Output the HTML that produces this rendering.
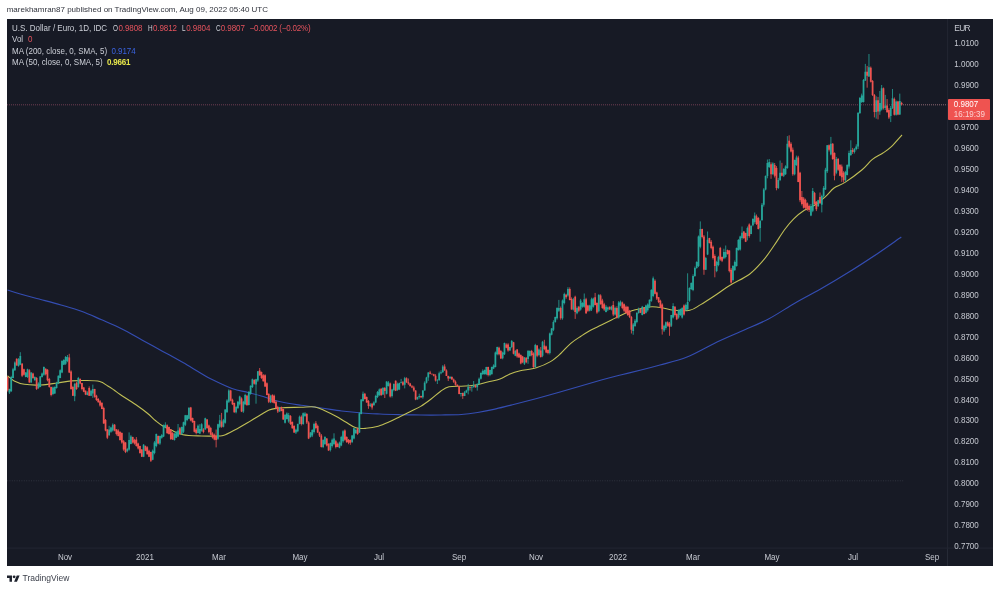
<!DOCTYPE html>
<html><head><meta charset="utf-8"><title>USDEUR chart</title>
<style>
html,body{margin:0;padding:0;background:#fff;}
body{width:1000px;height:590px;position:relative;overflow:hidden;font-family:"Liberation Sans",sans-serif;}
.t{position:absolute;white-space:nowrap;line-height:1;filter:blur(0.25px);}
#hdr{left:6.7px;top:5.8px;font-size:8px;color:#30333c;}
#chart{position:absolute;left:7px;top:18.5px;width:986px;height:547.3px;background:#171a25;overflow:hidden;}
#chart svg{position:absolute;left:-7px;top:-18.5px;}
.lg{font-size:8px;color:#cdd0d8;transform:scaleY(1.1);}
.ax{font-size:8px;color:#c6c9d1;transform:scaleY(1.1);}
.r{color:#e4535d}
.tl{font-size:8px;color:#c6c9d1;transform:translateX(-50%) scaleY(1.1);}
#ft{left:22.5px;top:574.3px;font-size:8.5px;color:#3a3e49;}
</style></head><body>
<div id="hdr" class="t">marekhamran87 published on TradingView.com, Aug 09, 2022 05:40 UTC</div>
<div id="chart">
<svg width="1000" height="590" viewBox="0 0 1000 590">
<line x1="7" y1="104.8" x2="903" y2="104.8" stroke="#6e3c50" stroke-width="1" stroke-dasharray="1 1"/>
<line x1="903" y1="104.8" x2="947.5" y2="104.8" stroke="#8f6873" stroke-width="1" stroke-dasharray="1 1"/>
<line x1="7" y1="480.8" x2="903.5" y2="480.8" stroke="#3b3f4b" stroke-width="0.7" stroke-dasharray="1 1.4"/>

<path d="M7.5 290.0C9.6 290.7 14.8 292.4 20.3 294.0C25.8 295.6 33.9 297.7 40.7 299.5C47.5 301.3 54.2 303.0 61.0 305.0C67.8 307.0 74.6 308.8 81.4 311.3C88.2 313.8 94.9 316.9 101.7 319.8C108.5 322.8 115.2 325.6 122.0 329.0C128.8 332.4 135.6 336.5 142.4 340.2C149.2 343.9 156.0 347.7 162.8 351.4C169.6 355.1 176.8 359.1 183.0 362.6C189.2 366.2 195.2 369.9 200.0 372.7C204.8 375.5 206.3 376.7 211.6 379.3C216.9 381.9 225.9 386.3 232.0 388.5C238.1 390.7 243.3 391.3 248.0 392.5C252.7 393.7 254.9 394.1 260.3 395.7C265.7 397.2 273.8 400.2 280.6 401.8C287.4 403.4 294.2 404.3 301.0 405.3C307.8 406.3 314.5 407.1 321.3 408.0C328.1 408.9 334.8 410.2 341.6 411.0C348.4 411.8 355.6 412.5 362.0 413.0C368.4 413.5 373.6 413.7 380.0 414.0C386.4 414.3 393.5 414.5 400.3 414.7C407.1 414.9 413.9 414.9 420.7 415.0C427.5 415.1 434.2 415.1 441.0 415.0C447.8 414.9 455.2 414.9 461.3 414.5C467.4 414.1 472.2 413.4 477.6 412.5C483.0 411.6 488.4 410.6 493.8 409.4C499.2 408.2 504.0 406.9 510.0 405.4C516.0 403.9 521.7 402.5 530.0 400.3C538.3 398.1 548.1 395.4 560.0 392.0C571.9 388.6 591.0 382.9 601.3 380.0C611.6 377.1 614.8 376.5 621.6 374.8C628.4 373.1 635.6 371.4 642.0 369.8C648.4 368.2 652.5 367.1 660.0 365.0C667.5 362.9 678.0 360.6 687.0 357.0C696.0 353.4 705.2 347.7 714.2 343.4C723.2 339.1 732.2 335.3 741.3 331.2C750.3 327.1 759.5 323.8 768.5 319.0C777.5 314.2 786.6 307.9 795.6 302.7C804.6 297.5 813.7 293.0 822.7 287.8C831.7 282.6 840.8 277.1 849.8 271.5C858.8 265.9 868.4 259.6 877.0 253.9C885.6 248.2 897.2 239.8 901.3 237.0" fill="none" stroke="#344db2" stroke-width="1.15"/>
<path d="M7.5 375.8C8.6 376.6 11.4 379.5 14.2 380.9C17.0 382.3 20.0 383.6 24.4 384.3C28.8 385.0 35.3 385.2 40.7 385.0C46.1 384.8 51.9 383.7 57.0 383.0C62.1 382.3 66.5 381.3 71.2 380.9C76.0 380.5 80.8 380.4 85.5 380.5C90.2 380.6 96.0 380.6 99.7 381.5C103.4 382.4 105.4 384.6 107.8 386.0C110.2 387.4 111.9 388.6 114.0 390.0C116.1 391.4 116.6 392.1 120.2 394.5C123.8 396.9 131.1 401.4 135.6 404.5C140.1 407.6 144.1 410.5 147.4 413.2C150.8 415.9 153.1 418.7 155.7 420.8C158.3 422.9 160.2 424.5 162.8 426.0C165.4 427.5 167.8 428.5 171.2 430.0C174.6 431.5 177.9 433.8 183.0 434.8C188.1 435.8 195.7 435.8 201.5 436.0C207.3 436.2 213.9 436.1 217.7 436.0C221.4 435.9 221.2 436.3 224.0 435.3C226.8 434.3 230.7 432.1 234.7 430.0C238.7 427.9 243.5 425.1 247.9 422.5C252.3 419.9 257.6 416.6 261.1 414.5C264.6 412.4 266.5 411.1 269.1 410.0C271.8 408.9 274.4 408.6 277.0 408.2C279.6 407.8 281.0 407.8 285.0 407.6C289.0 407.5 296.0 407.4 301.0 407.3C306.0 407.2 310.9 406.4 315.0 407.0C319.1 407.6 322.0 409.5 325.4 411.0C328.8 412.5 332.1 414.2 335.5 416.0C338.9 417.8 342.3 420.0 345.7 422.0C349.1 424.0 352.5 426.8 355.9 427.8C359.3 428.9 362.3 428.6 366.0 428.3C369.7 428.0 374.2 427.3 378.2 426.2C382.2 425.1 386.3 423.2 390.0 421.6C393.7 420.0 396.9 418.2 400.3 416.5C403.7 414.8 407.1 413.2 410.5 411.5C413.9 409.8 417.3 408.4 420.7 406.4C424.1 404.4 427.4 401.9 430.8 399.3C434.2 396.7 438.0 393.1 441.0 391.0C444.0 388.9 445.6 387.6 449.0 386.8C452.4 386.0 457.2 386.4 461.3 386.2C465.4 385.9 469.1 386.0 473.5 385.3C477.9 384.6 483.3 383.1 487.7 382.0C492.1 380.9 496.3 380.4 500.0 379.0C503.7 377.6 506.6 375.3 510.0 373.9C513.4 372.5 515.8 371.8 520.2 370.8C524.6 369.8 531.2 369.2 536.3 367.7C541.3 366.2 546.4 364.0 550.5 361.6C554.6 359.2 557.3 356.6 560.7 353.5C564.1 350.4 567.4 346.2 570.8 343.3C574.2 340.4 577.6 338.4 581.0 336.2C584.4 334.0 587.6 331.9 591.0 330.0C594.4 328.1 597.9 326.7 601.3 325.0C604.7 323.3 608.1 321.7 611.5 320.0C614.9 318.3 618.2 316.4 621.6 314.9C625.0 313.4 628.4 311.9 631.8 310.8C635.2 309.7 638.6 309.1 642.0 308.4C645.4 307.7 648.6 306.8 652.0 306.7C655.4 306.6 658.7 307.2 662.3 307.8C665.9 308.4 669.0 309.9 673.6 310.3C678.2 310.7 685.3 311.2 689.8 310.3C694.3 309.4 696.6 307.0 700.7 304.6C704.8 302.2 709.2 299.3 714.2 296.0C719.2 292.7 724.6 288.6 730.5 285.0C736.4 281.4 744.1 278.2 749.5 274.2C754.9 270.1 758.9 265.4 763.0 260.7C767.1 256.0 770.3 251.0 773.9 245.8C777.5 240.6 781.4 234.0 784.7 229.5C788.0 225.0 790.4 222.0 793.7 218.8C797.0 215.6 800.8 212.6 804.3 210.3C807.8 208.0 811.5 207.3 815.0 205.0C818.5 202.7 822.3 199.4 825.5 196.6C828.7 193.8 830.8 190.4 834.0 188.0C837.2 185.6 840.4 185.4 845.0 182.4C849.6 179.4 857.2 173.8 861.8 170.0C866.4 166.2 868.9 162.2 872.4 159.4C875.9 156.6 879.8 155.1 883.0 153.0C886.2 150.9 888.2 149.7 891.4 146.7C894.6 143.7 900.2 136.9 902.0 135.0" fill="none" stroke="#c0bf56" stroke-width="1.1"/>
<g style="filter:blur(0.3px)">
<path d="M9.41 388.7V394.0M11.23 375.8V391.9M13.04 367.8V378.2M14.85 361.4V370.9M18.48 358.1V366.7M20.29 352.2V365.2M25.73 372.1V377.3M27.55 368.7V378.0M31.17 372.2V382.7M34.80 376.4V380.6M38.43 382.3V388.9M40.24 376.0V387.2M42.05 372.5V377.6M43.87 366.5V375.8M52.93 386.6V395.2M54.75 386.4V393.9M56.56 381.8V388.6M58.37 375.4V384.1M60.19 369.4V378.2M62.00 360.2V373.2M63.82 359.1V365.1M65.63 356.0V364.9M67.44 355.0V362.2M74.70 382.9V401.2M78.32 376.9V387.7M87.39 391.2V395.3M91.02 389.7V396.1M92.83 384.6V397.9M109.15 425.8V435.8M110.96 426.7V432.8M112.78 423.4V431.6M127.28 447.9V452.4M129.10 432.4V450.6M130.91 435.1V444.3M143.60 444.0V457.1M152.67 449.5V460.2M154.48 441.1V454.3M156.30 433.6V447.3M159.92 435.7V444.9M161.74 434.1V438.7M163.55 424.5V437.1M165.36 422.3V428.2M174.43 432.9V440.6M176.25 431.1V438.1M178.06 424.0V437.0M181.69 426.6V434.9M183.50 421.7V433.1M185.31 414.9V426.1M187.13 414.9V421.2M188.94 407.0V419.2M198.01 424.5V433.3M199.82 424.2V434.1M201.63 423.2V431.7M205.26 417.7V429.7M217.95 423.7V439.9M219.77 414.9V428.0M223.39 418.9V427.4M225.21 409.3V423.7M227.02 399.2V412.7M228.83 389.3V403.0M236.09 405.9V413.4M237.90 400.9V408.6M239.71 395.7V405.5M243.34 400.8V412.9M245.15 393.8V405.1M248.78 391.4V405.4M250.59 385.4V394.7M252.41 378.6V388.0M256.03 378.8V403.7M257.85 371.0V381.9M270.54 394.8V403.1M279.61 407.0V411.8M285.05 414.0V423.5M286.86 412.4V419.6M288.68 412.9V422.8M295.93 428.7V434.0M297.74 423.6V432.2M299.56 415.6V424.4M303.18 412.5V424.8M305.00 412.1V416.9M310.44 432.1V437.6M312.25 429.2V437.1M314.06 422.7V433.5M323.13 439.2V448.1M324.94 436.2V444.9M330.38 442.6V451.5M332.20 438.5V447.5M334.01 433.3V445.2M339.45 441.6V448.3M341.26 435.8V446.2M343.08 430.2V442.7M352.14 434.9V443.1M353.96 427.9V439.4M355.77 428.5V433.9M359.40 412.3V433.0M361.21 399.1V414.3M363.02 391.6V401.6M370.28 403.1V407.1M373.90 401.3V405.7M375.72 394.8V403.2M377.53 391.0V398.1M379.34 388.5V395.8M382.97 387.1V395.1M386.60 381.3V394.4M388.41 381.1V386.5M392.04 388.8V397.5M393.85 383.4V391.3M397.48 382.6V390.8M399.29 382.6V390.1M401.11 378.9V383.4M404.73 376.9V388.4M417.43 396.7V399.4M419.24 393.7V398.6M422.87 390.2V398.7M424.68 381.3V390.6M426.49 376.8V383.5M428.31 372.1V380.8M437.37 379.1V384.0M439.19 371.6V380.9M441.00 370.3V374.3M442.81 365.1V372.8M450.07 376.1V378.6M460.95 392.9V396.5M464.57 391.1V396.1M466.39 389.7V392.8M468.20 383.9V394.4M471.83 385.7V391.7M473.64 381.0V387.4M477.27 383.3V390.6M479.08 377.5V384.7M480.89 372.8V379.6M482.71 369.4V374.7M484.52 369.6V374.4M486.33 366.8V375.2M489.96 369.7V376.2M491.77 366.6V374.4M493.59 364.3V369.1M495.40 351.5V367.4M497.21 346.7V355.3M502.65 351.6V359.3M504.47 342.6V355.0M509.91 346.8V350.8M511.72 340.0V348.2M515.35 349.9V356.2M524.42 357.0V365.0M528.04 350.0V363.8M529.86 350.3V356.7M535.30 343.8V367.6M538.92 348.4V356.2M542.55 340.9V357.2M549.80 332.6V354.4M551.62 328.0V335.4M553.43 320.3V331.1M555.24 316.6V322.7M557.06 307.3V319.6M558.87 299.9V311.9M562.50 299.5V319.7M564.31 292.7V304.4M567.94 287.2V296.7M573.38 297.8V310.5M577.00 306.4V314.3M580.63 298.9V310.6M582.44 302.2V307.7M584.26 293.5V307.7M589.70 304.8V311.4M591.51 297.7V311.0M593.32 297.6V307.7M598.76 294.4V312.4M606.02 305.1V312.4M607.83 306.6V311.1M611.46 305.7V310.4M615.08 306.7V315.6M618.71 301.1V318.6M620.52 300.5V306.4M633.22 323.0V334.8M635.03 319.1V326.9M636.85 312.1V323.3M638.66 307.6V313.7M642.29 305.9V315.4M645.91 304.7V313.6M647.73 303.4V311.7M649.54 299.5V308.2M651.35 289.1V301.8M653.17 276.5V297.2M664.05 324.6V332.0M665.86 321.5V329.7M671.30 314.9V327.0M673.11 303.2V318.5M678.55 309.4V318.7M680.37 308.6V315.9M682.18 307.2V318.6M685.81 303.6V310.9M687.62 273.3V310.5M689.43 287.3V301.8M691.25 282.4V290.0M693.06 274.3V291.2M694.87 266.5V276.8M696.69 261.3V268.7M698.50 235.5V267.1M700.31 221.4V248.3M705.75 256.9V270.0M707.57 231.5V255.1M716.63 260.8V272.2M718.45 255.8V266.3M723.89 248.7V259.2M725.70 245.5V258.4M732.95 265.2V281.5M734.77 260.5V271.1M736.58 247.5V266.6M738.40 239.1V250.7M740.21 235.7V250.6M742.02 226.5V239.6M747.46 226.5V240.4M751.09 225.1V234.2M752.90 218.2V226.3M754.72 212.5V223.7M760.16 219.8V241.7M761.97 203.0V221.0M763.78 188.1V206.6M765.60 175.4V190.4M767.41 159.5V178.3M769.22 159.0V168.0M772.85 162.3V174.7M778.29 177.9V189.0M780.10 160.5V181.1M783.73 168.1V177.1M785.54 165.3V174.9M787.36 136.1V168.8M794.61 159.6V175.3M796.42 155.6V165.9M810.93 204.0V216.2M812.74 188.0V212.2M818.18 199.7V206.8M821.81 194.7V212.4M823.62 186.1V197.5M825.44 167.8V189.9M827.25 145.0V173.0M830.88 136.9V155.4M836.32 156.9V174.2M845.38 170.8V181.8M847.20 164.3V175.4M849.01 150.7V168.6M850.83 140.3V155.9M854.45 148.1V153.5M856.27 144.3V150.3M858.08 112.0V149.0M859.89 97.0V114.0M861.71 93.6V103.0M863.52 79.0V102.5M865.33 63.9V81.0M868.96 54.0V77.0M876.21 96.3V118.7M879.84 91.0V114.8M881.65 85.0V110.5M885.28 94.9V110.0M890.72 106.0V122.1M892.53 89.0V109.0M896.16 100.5V115.6M899.79 93.6V115.0" stroke="#26a69a" stroke-width="0.8" fill="none"/>
<path d="M7.60 376.4V391.5M16.67 358.4V365.6M22.11 363.0V377.1M23.92 368.7V375.6M29.36 369.2V382.8M32.99 372.7V378.8M36.61 377.1V390.0M45.68 368.4V375.4M47.49 369.2V381.4M49.31 377.9V387.7M51.12 386.7V396.4M69.26 353.8V373.1M71.07 370.3V389.7M72.88 385.8V396.0M76.51 381.7V389.8M80.14 378.3V384.3M81.95 382.8V390.4M83.76 386.9V392.2M85.58 390.4V395.1M89.20 386.4V396.0M94.64 388.8V397.7M96.46 394.8V400.9M98.27 398.0V402.6M100.08 400.0V406.7M101.90 402.5V409.2M103.71 406.7V423.8M105.52 419.0V431.3M107.34 429.1V439.1M114.59 424.0V431.3M116.40 429.0V435.5M118.22 429.2V436.4M120.03 431.6V440.6M121.84 432.4V443.7M123.66 440.0V450.8M125.47 442.1V453.1M132.72 436.7V443.5M134.54 438.8V444.6M136.35 437.1V446.6M138.16 442.7V449.5M139.98 445.7V453.7M141.79 449.1V457.0M145.42 445.5V451.2M147.23 446.2V454.5M149.04 449.7V457.1M150.86 451.7V462.0M158.11 435.5V444.3M167.18 424.4V434.0M168.99 426.6V434.6M170.80 429.1V440.0M172.62 432.1V439.9M179.87 427.0V434.7M190.75 406.9V421.3M192.57 417.6V422.8M194.38 420.7V432.4M196.19 428.0V434.4M203.45 428.2V433.3M207.07 419.0V428.8M208.89 424.6V433.3M210.70 426.8V435.1M212.51 432.2V438.6M214.33 433.6V440.3M216.14 429.5V447.4M221.58 412.9V427.8M230.65 389.9V401.3M232.46 398.7V405.1M234.27 402.6V412.8M241.53 397.3V412.1M246.97 394.9V405.9M254.22 379.2V384.6M259.66 368.0V375.8M261.47 371.6V378.9M263.29 374.1V381.6M265.10 374.3V387.1M266.91 382.4V395.3M268.73 393.5V403.1M272.35 394.2V402.8M274.17 394.6V403.7M275.98 400.4V409.4M277.79 405.8V413.0M281.42 406.6V411.3M283.23 408.7V419.8M290.49 415.1V424.9M292.30 421.4V428.7M294.12 425.2V433.0M301.37 415.4V425.5M306.81 413.1V424.0M308.62 421.2V439.1M315.88 421.1V429.3M317.69 424.6V432.9M319.50 431.7V437.0M321.32 434.0V447.5M326.76 438.1V446.4M328.57 443.2V450.8M335.82 439.9V448.4M337.64 442.6V447.2M344.89 429.4V440.9M346.70 436.3V442.9M348.52 439.0V444.2M350.33 439.4V444.8M357.58 427.9V434.9M364.84 392.9V399.6M366.65 396.5V402.7M368.46 400.0V408.8M372.09 402.8V409.6M381.16 388.2V395.7M384.78 387.0V398.0M390.22 382.6V397.5M395.66 380.4V391.1M402.92 381.0V385.9M406.55 377.3V383.0M408.36 378.5V384.9M410.17 382.9V386.3M411.99 385.0V388.2M413.80 385.8V391.8M415.61 390.2V400.2M421.05 395.7V398.0M430.12 370.8V374.3M431.93 373.8V374.6M433.75 373.8V376.4M435.56 374.2V381.5M444.63 364.3V370.7M446.44 369.3V376.0M448.25 375.7V381.0M451.88 376.3V379.7M453.69 378.5V382.9M455.51 380.4V385.7M457.32 384.4V386.3M459.13 385.9V394.3M462.76 392.6V398.9M470.01 386.7V390.5M475.45 384.8V387.7M488.15 366.7V376.4M499.03 346.7V355.4M500.84 349.9V358.9M506.28 343.3V348.3M508.09 343.2V351.7M513.54 341.9V354.4M517.16 349.0V357.8M518.98 352.6V357.7M520.79 354.4V364.3M522.60 355.9V363.2M526.23 357.2V363.2M531.67 349.9V356.3M533.48 352.3V367.9M537.11 345.1V357.2M540.74 347.0V357.6M544.36 339.8V350.2M546.18 345.7V353.2M547.99 349.3V354.3M560.68 306.5V319.8M566.12 293.8V298.8M569.75 287.4V300.4M571.56 297.4V309.6M575.19 295.7V318.9M578.82 305.9V312.2M586.07 297.8V313.9M587.88 304.8V311.8M595.14 292.9V305.4M596.95 302.3V313.8M600.58 294.3V304.6M602.39 298.8V308.8M604.20 302.8V310.9M609.64 306.6V309.7M613.27 301.1V316.2M616.90 306.3V318.6M622.34 301.6V309.3M624.15 303.5V312.4M625.97 305.5V314.0M627.78 306.4V315.9M629.59 309.9V318.1M631.41 315.9V333.5M640.47 308.6V313.1M644.10 307.1V314.3M654.98 279.3V294.4M656.79 291.7V300.0M658.61 297.0V303.1M660.42 299.7V308.2M662.23 303.3V334.6M667.67 321.3V326.7M669.49 321.9V335.8M674.93 306.1V316.5M676.74 313.2V320.1M683.99 304.4V315.5M702.13 228.7V238.4M703.94 235.0V274.8M709.38 237.8V243.5M711.19 240.0V249.3M713.01 245.5V259.5M714.82 254.3V277.3M720.26 246.9V260.8M722.07 256.5V262.1M727.51 249.6V254.5M729.33 250.3V272.4M731.14 268.0V283.6M743.84 231.2V239.1M745.65 232.7V242.1M749.28 223.4V237.7M756.53 214.5V225.0M758.34 217.1V229.4M771.04 162.3V178.8M774.66 163.0V177.5M776.48 166.1V190.3M781.92 162.8V176.4M789.17 135.3V148.4M790.98 142.2V152.4M792.80 147.5V175.8M798.24 155.8V182.2M800.05 171.8V202.2M801.86 191.0V205.5M803.68 197.0V208.5M805.49 198.7V209.2M807.30 202.4V210.9M809.12 204.6V212.0M814.56 191.9V204.5M816.37 201.1V211.1M820.00 192.5V203.8M829.06 144.4V151.5M832.69 143.1V159.8M834.50 152.4V180.3M838.13 158.0V170.9M839.94 164.0V176.2M841.76 164.5V181.9M843.57 171.2V182.5M852.64 147.9V153.9M867.15 65.9V87.7M870.77 66.5V82.5M872.59 80.0V96.0M874.40 94.0V117.4M878.03 96.9V119.4M883.47 87.5V109.5M887.09 99.0V113.0M888.91 108.2V119.0M894.35 97.5V115.5M897.97 100.8V115.2M901.60 101.8V105.5" stroke="#ef5350" stroke-width="0.8" fill="none"/>
<path d="M8.54 389.0h1.75V392.4h-1.75zM10.35 376.9h1.75V391.3h-1.75zM12.17 369.2h1.75V378.0h-1.75zM13.98 362.6h1.75V370.3h-1.75zM17.61 359.3h1.75V365.9h-1.75zM19.42 356.0h1.75V364.8h-1.75zM24.86 372.5h1.75V376.9h-1.75zM26.67 369.2h1.75V376.9h-1.75zM30.30 372.5h1.75V382.4h-1.75zM33.93 376.9h1.75V380.2h-1.75zM37.55 383.5h1.75V388.0h-1.75zM39.37 376.4h1.75V386.9h-1.75zM41.18 373.6h1.75V376.9h-1.75zM42.99 367.0h1.75V374.7h-1.75zM52.06 387.4h1.75V394.0h-1.75zM53.87 386.9h1.75V393.5h-1.75zM55.69 383.0h1.75V388.0h-1.75zM57.50 375.8h1.75V383.5h-1.75zM59.31 370.3h1.75V378.0h-1.75zM61.13 361.0h1.75V372.5h-1.75zM62.94 359.9h1.75V364.8h-1.75zM64.75 357.1h1.75V363.7h-1.75zM66.57 357.1h1.75V361.0h-1.75zM73.82 384.1h1.75V396.2h-1.75zM77.45 378.0h1.75V386.9h-1.75zM86.51 392.4h1.75V395.1h-1.75zM90.14 390.7h1.75V395.7h-1.75zM91.95 389.0h1.75V393.5h-1.75zM108.27 429.4h1.75V435.3h-1.75zM110.09 427.6h1.75V431.8h-1.75zM111.90 424.7h1.75V430.6h-1.75zM126.41 449.0h1.75V451.3h-1.75zM128.22 440.0h1.75V449.6h-1.75zM130.04 436.5h1.75V444.0h-1.75zM142.73 444.8h1.75V456.7h-1.75zM151.80 450.8h1.75V459.7h-1.75zM153.61 442.4h1.75V453.1h-1.75zM155.42 434.1h1.75V446.0h-1.75zM159.05 436.0h1.75V443.6h-1.75zM160.86 435.3h1.75V437.7h-1.75zM162.68 425.2h1.75V436.5h-1.75zM164.49 424.7h1.75V427.0h-1.75zM173.56 434.1h1.75V440.1h-1.75zM175.37 431.8h1.75V437.7h-1.75zM177.18 430.6h1.75V436.5h-1.75zM180.81 427.0h1.75V434.1h-1.75zM182.62 422.3h1.75V431.8h-1.75zM184.44 415.2h1.75V424.7h-1.75zM186.25 415.2h1.75V419.9h-1.75zM188.06 408.0h1.75V418.7h-1.75zM197.13 425.8h1.75V433.0h-1.75zM198.94 429.0h1.75V433.4h-1.75zM200.76 424.2h1.75V430.8h-1.75zM204.38 418.2h1.75V429.5h-1.75zM217.08 424.2h1.75V438.7h-1.75zM218.89 420.2h1.75V426.8h-1.75zM222.52 420.2h1.75V426.8h-1.75zM224.33 409.6h1.75V422.8h-1.75zM226.14 400.4h1.75V412.3h-1.75zM227.96 390.4h1.75V401.7h-1.75zM235.21 407.0h1.75V412.3h-1.75zM237.03 401.7h1.75V408.3h-1.75zM238.84 396.4h1.75V404.3h-1.75zM242.47 401.7h1.75V411.6h-1.75zM244.28 395.1h1.75V404.3h-1.75zM247.91 391.8h1.75V405.0h-1.75zM249.72 385.8h1.75V393.7h-1.75zM251.53 379.2h1.75V387.1h-1.75zM255.16 379.2h1.75V384.5h-1.75zM256.97 371.3h1.75V380.5h-1.75zM269.67 396.0h1.75V402.3h-1.75zM278.73 407.5h1.75V411.6h-1.75zM284.17 414.9h1.75V422.8h-1.75zM285.99 413.6h1.75V418.9h-1.75zM287.80 414.9h1.75V421.5h-1.75zM295.05 429.7h1.75V432.6h-1.75zM296.87 424.0h1.75V431.2h-1.75zM298.68 416.8h1.75V424.0h-1.75zM302.31 413.2h1.75V424.0h-1.75zM304.12 413.5h1.75V416.0h-1.75zM309.56 432.6h1.75V436.9h-1.75zM311.37 430.0h1.75V435.5h-1.75zM313.19 424.0h1.75V432.0h-1.75zM322.25 440.0h1.75V447.0h-1.75zM324.07 436.9h1.75V444.0h-1.75zM329.51 443.0h1.75V449.9h-1.75zM331.32 439.8h1.75V446.0h-1.75zM333.13 438.4h1.75V444.1h-1.75zM338.57 442.7h1.75V447.7h-1.75zM340.39 436.9h1.75V445.6h-1.75zM342.20 431.2h1.75V441.2h-1.75zM351.27 435.5h1.75V442.0h-1.75zM353.08 428.3h1.75V438.4h-1.75zM354.90 430.0h1.75V433.0h-1.75zM358.52 413.2h1.75V432.6h-1.75zM360.34 399.5h1.75V413.9h-1.75zM362.15 393.7h1.75V401.0h-1.75zM369.40 404.5h1.75V406.0h-1.75zM373.03 402.4h1.75V405.2h-1.75zM374.84 396.0h1.75V402.4h-1.75zM376.66 392.0h1.75V397.0h-1.75zM378.47 389.4h1.75V395.2h-1.75zM382.10 388.0h1.75V394.4h-1.75zM385.72 381.5h1.75V393.7h-1.75zM387.54 382.5h1.75V386.0h-1.75zM391.16 389.4h1.75V395.9h-1.75zM392.98 384.0h1.75V390.0h-1.75zM396.60 384.0h1.75V390.0h-1.75zM398.42 382.9h1.75V389.4h-1.75zM400.23 382.3h1.75V383.0h-1.75zM403.86 378.2h1.75V384.7h-1.75zM416.55 396.9h1.75V399.4h-1.75zM418.36 396.1h1.75V396.9h-1.75zM421.99 390.5h1.75V397.2h-1.75zM423.80 382.7h1.75V390.5h-1.75zM425.62 377.6h1.75V382.7h-1.75zM427.43 372.6h1.75V377.6h-1.75zM436.50 379.9h1.75V380.5h-1.75zM438.31 373.3h1.75V380.0h-1.75zM440.12 372.3h1.75V373.3h-1.75zM441.94 366.6h1.75V372.3h-1.75zM449.19 377.0h1.75V378.4h-1.75zM460.07 393.1h1.75V393.9h-1.75zM463.70 392.6h1.75V396.1h-1.75zM465.51 390.5h1.75V392.6h-1.75zM467.33 387.1h1.75V390.5h-1.75zM470.95 387.2h1.75V387.8h-1.75zM472.77 385.5h1.75V387.2h-1.75zM476.39 384.1h1.75V387.3h-1.75zM478.21 378.8h1.75V384.1h-1.75zM480.02 372.8h1.75V378.8h-1.75zM481.83 371.0h1.75V374.2h-1.75zM483.65 370.0h1.75V374.2h-1.75zM485.46 367.0h1.75V374.2h-1.75zM489.09 370.0h1.75V375.0h-1.75zM490.90 367.0h1.75V374.2h-1.75zM492.71 365.4h1.75V368.6h-1.75zM494.53 352.6h1.75V367.0h-1.75zM496.34 347.0h1.75V354.2h-1.75zM501.78 352.6h1.75V358.2h-1.75zM503.59 343.0h1.75V354.2h-1.75zM509.03 347.0h1.75V350.6h-1.75zM510.85 341.0h1.75V347.0h-1.75zM514.47 351.0h1.75V355.8h-1.75zM523.54 357.4h1.75V363.8h-1.75zM527.17 351.0h1.75V359.0h-1.75zM528.98 351.0h1.75V356.0h-1.75zM534.42 345.0h1.75V367.0h-1.75zM538.05 349.4h1.75V355.0h-1.75zM541.67 341.8h1.75V355.8h-1.75zM548.93 333.5h1.75V353.0h-1.75zM550.74 328.4h1.75V334.8h-1.75zM552.55 322.0h1.75V329.7h-1.75zM554.37 317.0h1.75V322.0h-1.75zM556.18 308.1h1.75V318.3h-1.75zM557.99 308.1h1.75V310.7h-1.75zM561.62 300.5h1.75V318.3h-1.75zM563.43 294.1h1.75V303.0h-1.75zM567.06 289.1h1.75V295.4h-1.75zM572.50 299.2h1.75V309.4h-1.75zM576.13 308.1h1.75V313.2h-1.75zM579.76 300.5h1.75V309.4h-1.75zM581.57 303.0h1.75V306.8h-1.75zM583.38 299.2h1.75V306.8h-1.75zM588.82 305.6h1.75V310.7h-1.75zM590.64 299.2h1.75V309.4h-1.75zM592.45 298.6h1.75V306.8h-1.75zM597.89 294.8h1.75V311.3h-1.75zM605.14 306.8h1.75V311.9h-1.75zM606.96 307.5h1.75V309.4h-1.75zM610.58 306.8h1.75V309.4h-1.75zM614.21 308.1h1.75V314.5h-1.75zM617.84 302.4h1.75V317.6h-1.75zM619.65 301.8h1.75V305.6h-1.75zM632.34 324.6h1.75V331.0h-1.75zM634.16 320.8h1.75V325.9h-1.75zM635.97 313.0h1.75V322.1h-1.75zM637.78 309.4h1.75V313.0h-1.75zM641.41 306.8h1.75V315.1h-1.75zM645.04 305.6h1.75V312.7h-1.75zM646.85 304.4h1.75V310.3h-1.75zM648.66 299.7h1.75V306.8h-1.75zM650.48 290.0h1.75V300.8h-1.75zM652.29 278.3h1.75V296.1h-1.75zM663.17 325.8h1.75V330.5h-1.75zM664.98 322.2h1.75V328.1h-1.75zM670.42 315.1h1.75V325.8h-1.75zM672.24 306.0h1.75V317.4h-1.75zM677.68 310.3h1.75V317.4h-1.75zM679.49 309.1h1.75V315.1h-1.75zM681.31 308.0h1.75V317.4h-1.75zM684.93 305.0h1.75V310.3h-1.75zM686.75 302.0h1.75V309.0h-1.75zM688.56 288.1h1.75V300.8h-1.75zM690.37 283.0h1.75V289.0h-1.75zM692.19 276.1h1.75V290.0h-1.75zM694.00 268.0h1.75V276.1h-1.75zM695.81 262.0h1.75V268.0h-1.75zM697.63 236.6h1.75V265.9h-1.75zM699.44 229.0h1.75V246.8h-1.75zM704.88 258.0h1.75V269.7h-1.75zM706.69 239.8h1.75V254.4h-1.75zM715.76 262.0h1.75V271.0h-1.75zM717.57 257.0h1.75V265.0h-1.75zM723.01 251.9h1.75V258.3h-1.75zM724.83 251.9h1.75V257.0h-1.75zM732.08 266.0h1.75V280.0h-1.75zM733.89 262.0h1.75V270.0h-1.75zM735.71 248.1h1.75V265.9h-1.75zM737.52 240.0h1.75V250.0h-1.75zM739.33 236.6h1.75V249.4h-1.75zM741.15 232.8h1.75V237.9h-1.75zM746.59 228.0h1.75V236.0h-1.75zM750.21 226.0h1.75V234.0h-1.75zM752.03 219.0h1.75V225.2h-1.75zM753.84 215.5h1.75V222.0h-1.75zM759.28 221.0h1.75V228.0h-1.75zM761.09 204.7h1.75V220.0h-1.75zM762.91 189.5h1.75V204.7h-1.75zM764.72 176.0h1.75V189.5h-1.75zM766.53 163.0h1.75V176.0h-1.75zM768.35 162.0h1.75V167.0h-1.75zM771.97 163.6h1.75V174.2h-1.75zM777.41 180.0h1.75V188.0h-1.75zM779.23 172.7h1.75V180.0h-1.75zM782.85 169.0h1.75V175.8h-1.75zM784.67 166.6h1.75V174.2h-1.75zM786.48 143.7h1.75V168.1h-1.75zM793.74 160.0h1.75V174.2h-1.75zM795.55 157.5h1.75V165.0h-1.75zM810.06 206.3h1.75V215.4h-1.75zM811.87 191.0h1.75V210.8h-1.75zM817.31 200.2h1.75V206.3h-1.75zM820.94 196.0h1.75V204.7h-1.75zM822.75 188.0h1.75V196.0h-1.75zM824.56 169.7h1.75V189.5h-1.75zM826.38 145.3h1.75V171.2h-1.75zM830.00 143.7h1.75V154.4h-1.75zM835.44 159.0h1.75V172.7h-1.75zM844.51 172.0h1.75V180.3h-1.75zM846.32 165.1h1.75V175.0h-1.75zM848.14 152.9h1.75V166.6h-1.75zM849.95 150.0h1.75V155.0h-1.75zM853.58 149.0h1.75V152.0h-1.75zM855.39 146.5h1.75V149.0h-1.75zM857.20 113.0h1.75V146.5h-1.75zM859.02 98.0h1.75V113.0h-1.75zM860.83 95.6h1.75V102.0h-1.75zM862.64 80.0h1.75V102.0h-1.75zM864.46 71.8h1.75V80.4h-1.75zM868.08 67.2h1.75V76.4h-1.75zM875.34 100.2h1.75V112.1h-1.75zM878.96 102.9h1.75V111.5h-1.75zM880.78 88.3h1.75V109.5h-1.75zM884.40 105.5h1.75V108.0h-1.75zM889.84 108.0h1.75V116.1h-1.75zM891.66 98.3h1.75V108.0h-1.75zM895.28 101.5h1.75V114.8h-1.75zM898.91 100.9h1.75V114.5h-1.75z" fill="#26a69a"/>
<path d="M6.72 376.9h1.75V390.2h-1.75zM15.79 358.8h1.75V365.4h-1.75zM21.23 363.7h1.75V375.8h-1.75zM23.05 369.2h1.75V374.7h-1.75zM28.49 370.3h1.75V382.4h-1.75zM32.11 373.6h1.75V378.0h-1.75zM35.74 378.0h1.75V389.0h-1.75zM44.81 368.7h1.75V374.2h-1.75zM46.62 369.8h1.75V380.2h-1.75zM48.43 379.1h1.75V386.9h-1.75zM50.25 386.9h1.75V395.1h-1.75zM68.38 357.5h1.75V372.5h-1.75zM70.19 371.4h1.75V389.0h-1.75zM72.01 386.9h1.75V395.7h-1.75zM75.63 383.0h1.75V389.0h-1.75zM79.26 379.1h1.75V383.5h-1.75zM81.07 383.0h1.75V389.0h-1.75zM82.89 387.4h1.75V391.8h-1.75zM84.70 390.7h1.75V394.6h-1.75zM88.33 388.0h1.75V395.7h-1.75zM93.77 389.0h1.75V396.8h-1.75zM95.58 395.7h1.75V400.1h-1.75zM97.39 399.0h1.75V402.3h-1.75zM99.21 401.2h1.75V405.6h-1.75zM101.02 402.8h1.75V408.9h-1.75zM102.83 408.0h1.75V423.5h-1.75zM104.65 419.9h1.75V430.6h-1.75zM106.46 429.4h1.75V437.7h-1.75zM113.71 424.7h1.75V430.6h-1.75zM115.53 429.4h1.75V434.1h-1.75zM117.34 430.6h1.75V435.9h-1.75zM119.16 431.8h1.75V440.1h-1.75zM120.97 433.0h1.75V442.4h-1.75zM122.78 441.3h1.75V449.6h-1.75zM124.60 442.4h1.75V451.9h-1.75zM131.85 437.1h1.75V442.4h-1.75zM133.66 440.1h1.75V443.6h-1.75zM135.48 439.5h1.75V446.0h-1.75zM137.29 443.6h1.75V448.4h-1.75zM139.10 446.0h1.75V453.1h-1.75zM140.92 449.6h1.75V456.7h-1.75zM144.54 446.0h1.75V450.8h-1.75zM146.36 447.2h1.75V454.3h-1.75zM148.17 450.8h1.75V456.7h-1.75zM149.98 451.9h1.75V460.8h-1.75zM157.24 435.9h1.75V443.6h-1.75zM166.30 425.2h1.75V433.0h-1.75zM168.12 427.0h1.75V434.1h-1.75zM169.93 429.4h1.75V438.9h-1.75zM171.74 433.0h1.75V439.5h-1.75zM179.00 428.2h1.75V434.1h-1.75zM189.88 407.5h1.75V420.5h-1.75zM191.69 418.1h1.75V422.3h-1.75zM193.50 421.1h1.75V431.8h-1.75zM195.32 429.4h1.75V433.0h-1.75zM202.57 429.5h1.75V432.1h-1.75zM206.20 419.5h1.75V428.1h-1.75zM208.01 425.5h1.75V432.1h-1.75zM209.82 428.1h1.75V434.8h-1.75zM211.64 433.4h1.75V437.4h-1.75zM213.45 434.8h1.75V439.4h-1.75zM215.26 436.1h1.75V440.0h-1.75zM220.70 421.5h1.75V426.8h-1.75zM229.77 390.4h1.75V400.4h-1.75zM231.59 399.7h1.75V404.3h-1.75zM233.40 403.0h1.75V412.3h-1.75zM240.65 398.4h1.75V411.6h-1.75zM246.09 395.7h1.75V405.0h-1.75zM253.35 379.9h1.75V383.8h-1.75zM258.79 370.6h1.75V375.2h-1.75zM260.60 371.9h1.75V377.9h-1.75zM262.41 375.2h1.75V381.2h-1.75zM264.23 375.2h1.75V386.5h-1.75zM266.04 383.2h1.75V395.1h-1.75zM267.85 393.7h1.75V401.7h-1.75zM271.48 395.1h1.75V402.3h-1.75zM273.29 395.7h1.75V403.0h-1.75zM275.11 401.7h1.75V408.3h-1.75zM276.92 407.0h1.75V411.6h-1.75zM280.55 407.0h1.75V410.9h-1.75zM282.36 409.0h1.75V419.5h-1.75zM289.61 416.0h1.75V424.0h-1.75zM291.43 422.0h1.75V428.3h-1.75zM293.24 426.0h1.75V432.6h-1.75zM300.49 416.8h1.75V424.0h-1.75zM305.93 413.9h1.75V422.5h-1.75zM307.75 422.5h1.75V438.4h-1.75zM315.00 423.2h1.75V428.0h-1.75zM316.81 426.0h1.75V432.6h-1.75zM318.63 432.6h1.75V435.5h-1.75zM320.44 435.5h1.75V447.0h-1.75zM325.88 438.4h1.75V445.6h-1.75zM327.69 444.1h1.75V450.6h-1.75zM334.95 441.2h1.75V447.0h-1.75zM336.76 444.0h1.75V447.0h-1.75zM344.02 430.4h1.75V439.8h-1.75zM345.83 436.9h1.75V442.0h-1.75zM347.64 439.8h1.75V442.7h-1.75zM349.46 440.0h1.75V442.7h-1.75zM356.71 428.5h1.75V434.0h-1.75zM363.96 393.7h1.75V399.0h-1.75zM365.78 397.0h1.75V402.4h-1.75zM367.59 401.0h1.75V406.0h-1.75zM371.22 403.8h1.75V407.4h-1.75zM380.28 388.7h1.75V395.2h-1.75zM383.91 388.0h1.75V391.0h-1.75zM389.35 383.6h1.75V396.6h-1.75zM394.79 380.8h1.75V390.8h-1.75zM402.04 382.3h1.75V384.7h-1.75zM405.67 378.2h1.75V382.3h-1.75zM407.48 382.3h1.75V383.4h-1.75zM409.30 383.4h1.75V386.3h-1.75zM411.11 386.3h1.75V387.5h-1.75zM412.92 387.5h1.75V390.6h-1.75zM414.74 390.6h1.75V399.4h-1.75zM420.18 396.1h1.75V397.2h-1.75zM429.24 372.6h1.75V373.8h-1.75zM431.06 373.7h1.75V374.3h-1.75zM432.87 374.2h1.75V375.7h-1.75zM434.68 375.7h1.75V380.4h-1.75zM443.75 366.6h1.75V370.4h-1.75zM445.56 370.4h1.75V376.0h-1.75zM447.38 376.0h1.75V378.4h-1.75zM451.00 377.0h1.75V379.6h-1.75zM452.82 379.6h1.75V381.7h-1.75zM454.63 381.7h1.75V384.8h-1.75zM456.45 384.8h1.75V386.3h-1.75zM458.26 386.3h1.75V393.9h-1.75zM461.89 393.1h1.75V396.1h-1.75zM469.14 387.1h1.75V387.8h-1.75zM474.58 385.5h1.75V387.3h-1.75zM487.27 367.0h1.75V375.0h-1.75zM498.15 347.8h1.75V354.2h-1.75zM499.97 351.0h1.75V358.6h-1.75zM505.41 344.6h1.75V347.8h-1.75zM507.22 344.6h1.75V350.6h-1.75zM512.66 342.2h1.75V353.8h-1.75zM516.29 349.4h1.75V356.6h-1.75zM518.10 353.4h1.75V357.4h-1.75zM519.91 355.0h1.75V363.4h-1.75zM521.73 356.6h1.75V362.2h-1.75zM525.35 357.8h1.75V362.2h-1.75zM530.79 351.0h1.75V355.0h-1.75zM532.61 353.4h1.75V367.0h-1.75zM536.23 345.4h1.75V355.8h-1.75zM539.86 350.6h1.75V357.0h-1.75zM543.49 345.4h1.75V349.0h-1.75zM545.30 346.6h1.75V352.6h-1.75zM547.11 350.0h1.75V353.0h-1.75zM559.81 308.1h1.75V318.3h-1.75zM565.25 294.8h1.75V297.3h-1.75zM568.88 289.1h1.75V300.0h-1.75zM570.69 299.0h1.75V309.4h-1.75zM574.32 296.7h1.75V311.9h-1.75zM577.94 306.8h1.75V310.7h-1.75zM585.20 299.2h1.75V313.2h-1.75zM587.01 305.6h1.75V310.7h-1.75zM594.26 297.3h1.75V304.9h-1.75zM596.08 303.0h1.75V312.6h-1.75zM599.70 295.4h1.75V304.3h-1.75zM601.52 300.5h1.75V308.1h-1.75zM603.33 304.3h1.75V309.4h-1.75zM608.77 306.8h1.75V309.4h-1.75zM612.40 304.9h1.75V314.5h-1.75zM616.02 308.1h1.75V317.6h-1.75zM621.46 302.4h1.75V308.1h-1.75zM623.28 304.3h1.75V310.7h-1.75zM625.09 306.8h1.75V313.0h-1.75zM626.90 306.8h1.75V315.1h-1.75zM628.72 310.7h1.75V317.0h-1.75zM630.53 317.0h1.75V329.7h-1.75zM639.60 309.1h1.75V312.7h-1.75zM643.22 308.0h1.75V313.9h-1.75zM654.10 280.7h1.75V293.7h-1.75zM655.92 292.5h1.75V298.5h-1.75zM657.73 297.3h1.75V302.0h-1.75zM659.54 300.8h1.75V308.0h-1.75zM661.36 304.4h1.75V329.3h-1.75zM666.80 322.2h1.75V325.8h-1.75zM668.61 323.4h1.75V326.9h-1.75zM674.05 306.8h1.75V315.1h-1.75zM675.86 313.9h1.75V319.2h-1.75zM683.12 305.6h1.75V314.5h-1.75zM701.25 229.0h1.75V237.0h-1.75zM703.07 236.6h1.75V269.7h-1.75zM708.51 238.0h1.75V243.0h-1.75zM710.32 241.7h1.75V248.1h-1.75zM712.13 246.8h1.75V258.0h-1.75zM713.95 256.0h1.75V265.9h-1.75zM719.39 248.1h1.75V259.5h-1.75zM721.20 257.0h1.75V260.8h-1.75zM726.64 250.0h1.75V254.0h-1.75zM728.45 250.6h1.75V271.0h-1.75zM730.27 269.7h1.75V282.4h-1.75zM742.96 231.5h1.75V238.0h-1.75zM744.77 233.0h1.75V241.7h-1.75zM748.40 224.5h1.75V236.0h-1.75zM755.65 216.3h1.75V224.0h-1.75zM757.47 218.0h1.75V229.0h-1.75zM770.16 164.3h1.75V174.2h-1.75zM773.79 165.1h1.75V175.8h-1.75zM775.60 168.0h1.75V188.0h-1.75zM781.04 172.7h1.75V175.8h-1.75zM788.29 140.7h1.75V146.8h-1.75zM790.11 143.7h1.75V151.4h-1.75zM791.92 149.8h1.75V174.2h-1.75zM797.36 157.5h1.75V181.9h-1.75zM799.18 172.7h1.75V200.2h-1.75zM800.99 197.1h1.75V204.0h-1.75zM802.80 198.6h1.75V207.8h-1.75zM804.62 200.0h1.75V207.8h-1.75zM806.43 203.2h1.75V209.3h-1.75zM808.24 206.0h1.75V210.0h-1.75zM813.68 193.0h1.75V204.0h-1.75zM815.50 201.7h1.75V209.3h-1.75zM819.12 197.1h1.75V203.2h-1.75zM828.19 145.3h1.75V149.8h-1.75zM831.82 143.7h1.75V159.0h-1.75zM833.63 152.9h1.75V175.8h-1.75zM837.26 159.0h1.75V169.7h-1.75zM839.07 165.1h1.75V175.8h-1.75zM840.88 166.6h1.75V177.3h-1.75zM842.70 172.7h1.75V180.3h-1.75zM851.76 150.0h1.75V152.0h-1.75zM866.27 71.8h1.75V75.8h-1.75zM869.90 67.8h1.75V81.7h-1.75zM871.71 81.1h1.75V94.9h-1.75zM873.52 94.9h1.75V112.1h-1.75zM877.15 100.2h1.75V111.5h-1.75zM882.59 88.3h1.75V108.0h-1.75zM886.22 105.5h1.75V112.1h-1.75zM888.03 110.0h1.75V117.4h-1.75zM893.47 98.9h1.75V114.8h-1.75zM897.10 101.5h1.75V114.5h-1.75zM900.73 102.9h1.75V104.5h-1.75z" fill="#ef5350"/>
</g>
<line x1="947.6" y1="18" x2="947.6" y2="566" stroke="#262a36" stroke-width="0.8"/>
<line x1="7" y1="548.1" x2="993" y2="548.1" stroke="#262a36" stroke-width="0.8"/>
</svg>
<div class="t lg" style="left:5.0px;top:6.4px;">U.S. Dollar / Euro, 1D, IDC</div>
<div class="t lg" style="left:106.3px;top:6.4px;transform:scale(0.8,1.1);transform-origin:left center">O</div>
<div class="t lg r" style="left:111.4px;top:6.4px;letter-spacing:-0.06px">0.9808</div>
<div class="t lg" style="left:140.8px;top:6.4px;transform:scale(0.8,1.1);transform-origin:left center">H</div>
<div class="t lg r" style="left:145.9px;top:6.4px;letter-spacing:-0.06px">0.9812</div>
<div class="t lg" style="left:175.3px;top:6.4px;transform:scale(0.8,1.1);transform-origin:left center">L</div>
<div class="t lg r" style="left:179.2px;top:6.4px;letter-spacing:-0.06px">0.9804</div>
<div class="t lg" style="left:208.7px;top:6.4px;transform:scale(0.8,1.1);transform-origin:left center">C</div>
<div class="t lg r" style="left:213.7px;top:6.4px;letter-spacing:-0.06px">0.9807</div>
<div class="t lg r" style="left:242.5px;top:6.4px;letter-spacing:-0.2px">&minus;0.0002 (&minus;0.02%)</div>
<div class="t lg" style="left:5.0px;top:17.5px;">Vol</div>
<div class="t lg r" style="left:21.0px;top:17.5px;">0</div>
<div class="t lg" style="left:5.0px;top:29.1px;">MA (200, close, 0, SMA, 5)</div>
<div class="t lg" style="left:104.5px;top:29.1px;color:#3a63e0;letter-spacing:-0.06px">0.9174</div>
<div class="t lg" style="left:5.0px;top:40.6px;">MA (50, close, 0, SMA, 5)</div>
<div class="t lg" style="left:99.9px;top:40.6px;color:#e6e64a;font-weight:bold;letter-spacing:-0.16px">0.9661</div>
<div class="t ax" style="left:947.3px;top:5.6px;letter-spacing:-0.7px;font-size:8.4px">EUR</div>
<div class="t ax" style="left:947.3px;top:21.3px;">1.0100</div>
<div class="t ax" style="left:947.3px;top:42.3px;">1.0000</div>
<div class="t ax" style="left:947.3px;top:63.3px;">0.9900</div>
<div class="t ax" style="left:947.3px;top:84.2px;">0.9800</div>
<div class="t ax" style="left:947.3px;top:105.2px;">0.9700</div>
<div class="t ax" style="left:947.3px;top:126.2px;">0.9600</div>
<div class="t ax" style="left:947.3px;top:147.2px;">0.9500</div>
<div class="t ax" style="left:947.3px;top:168.2px;">0.9400</div>
<div class="t ax" style="left:947.3px;top:189.1px;">0.9300</div>
<div class="t ax" style="left:947.3px;top:210.1px;">0.9200</div>
<div class="t ax" style="left:947.3px;top:231.1px;">0.9100</div>
<div class="t ax" style="left:947.3px;top:252.1px;">0.9000</div>
<div class="t ax" style="left:947.3px;top:273.1px;">0.8900</div>
<div class="t ax" style="left:947.3px;top:294.0px;">0.8800</div>
<div class="t ax" style="left:947.3px;top:315.0px;">0.8700</div>
<div class="t ax" style="left:947.3px;top:336.0px;">0.8600</div>
<div class="t ax" style="left:947.3px;top:357.0px;">0.8500</div>
<div class="t ax" style="left:947.3px;top:378.0px;">0.8400</div>
<div class="t ax" style="left:947.3px;top:398.9px;">0.8300</div>
<div class="t ax" style="left:947.3px;top:419.9px;">0.8200</div>
<div class="t ax" style="left:947.3px;top:440.9px;">0.8100</div>
<div class="t ax" style="left:947.3px;top:461.9px;">0.8000</div>
<div class="t ax" style="left:947.3px;top:482.9px;">0.7900</div>
<div class="t ax" style="left:947.3px;top:503.8px;">0.7800</div>
<div class="t ax" style="left:947.3px;top:524.8px;">0.7700</div>
<div style="position:absolute;left:0;top:530px;width:986px;height:18px;background:#171a25"></div>
<div style="position:absolute;left:940.2px;top:530px;width:0.8px;height:18px;background:#262a36"></div>
<div class="t tl" style="left:58.0px;top:535.1px;">Nov</div>
<div class="t tl" style="left:138.0px;top:535.1px;">2021</div>
<div class="t tl" style="left:212.0px;top:535.1px;">Mar</div>
<div class="t tl" style="left:293.0px;top:535.1px;">May</div>
<div class="t tl" style="left:372.0px;top:535.1px;">Jul</div>
<div class="t tl" style="left:452.0px;top:535.1px;">Sep</div>
<div class="t tl" style="left:529.0px;top:535.1px;">Nov</div>
<div class="t tl" style="left:611.0px;top:535.1px;">2022</div>
<div class="t tl" style="left:686.0px;top:535.1px;">Mar</div>
<div class="t tl" style="left:765.0px;top:535.1px;">May</div>
<div class="t tl" style="left:846.0px;top:535.1px;">Jul</div>
<div class="t tl" style="left:925.0px;top:535.1px;">Sep</div>
<div style="position:absolute;left:940.6px;top:80.9px;width:42.4px;height:20.6px;background:#ef5350;border-radius:1px"></div>
<div class="t ax" style="left:946.8px;top:82.6px;color:#fff">0.9807</div>
<div class="t ax" style="left:946.8px;top:92.6px;color:#fbd0d0">16:19:39</div>
</div>
<svg style="position:absolute;left:7px;top:573.9px" width="12.8" height="10" viewBox="0 0 36 28"><path d="M14 22H7V11H0V4h14v18zM28 22h-8l7.5-18h8L28 22z" fill="#1e222d"/><circle cx="20" cy="8" r="4" fill="#1e222d"/></svg>
<div id="ft" class="t">TradingView</div>
</body></html>
